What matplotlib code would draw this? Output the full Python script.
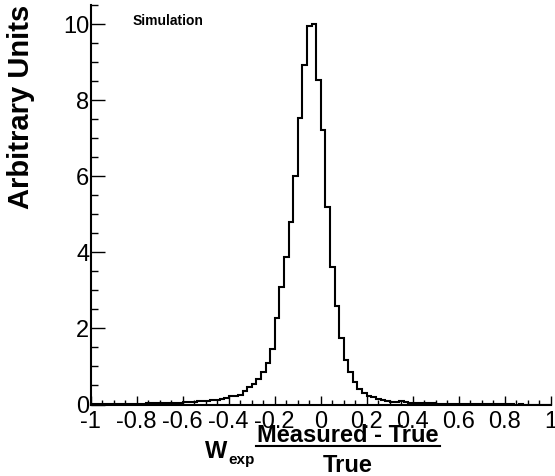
import matplotlib
matplotlib.use("Agg")
import matplotlib.pyplot as plt
from matplotlib.lines import Line2D
from matplotlib.ticker import MultipleLocator
import numpy as np

plt.rcParams['font.family'] = ['Liberation Sans', 'DejaVu Sans']

# histogram: 100 bins of width 0.02 between -1 and 1
edges = np.linspace(-1, 1, 101)
counts = [
    0.01, 0.01, 0.01, 0.01, 0.01, 0.02, 0.01, 0.02, 0.02, 0.02,
    0.02, 0.02, 0.03, 0.03, 0.03, 0.04, 0.04, 0.04, 0.05, 0.05,
    0.06, 0.07, 0.07, 0.08, 0.09, 0.10, 0.12, 0.13, 0.15, 0.16,
    0.22, 0.22, 0.25, 0.36, 0.47, 0.53, 0.66, 0.86, 1.10, 1.45,
    2.27, 3.10, 3.89, 4.79, 6.02, 7.53, 8.94, 9.95, 10.0, 8.53,
    7.23, 5.19, 3.62, 2.60, 1.76, 1.17, 0.85, 0.58, 0.41, 0.29,
    0.23, 0.19, 0.14, 0.12, 0.10, 0.07, 0.06, 0.09, 0.06, 0.05,
    0.04, 0.04, 0.03, 0.03, 0.03, 0.02, 0.02, 0.02, 0.02, 0.01,
    0.01, 0.01, 0.01, 0.01, 0.01, 0.01, 0.01, 0.01, 0.01, 0.01,
    0.01, 0.01, 0.00, 0.01, 0.00, 0.00, 0.00, 0.00, 0.00, 0.00,
]
xticks = [-1, -0.8, -0.6, -0.4, -0.2, 0, 0.2, 0.4, 0.6, 0.8, 1]
xticklabels = ['-1', '-0.8', '-0.6', '-0.4', '-0.2', '0', '0.2', '0.4', '0.6', '0.8', '1']
yticks = [0, 2, 4, 6, 8, 10]

W, H = 555, 476
fig = plt.figure(figsize=(W / 100, H / 100), dpi=100)
ax = fig.add_axes([90.7 / W, 1 - 404.5 / H, 460 / W, 399.5 / H])

ax.stairs(counts, edges, color='black', linewidth=1.5)

ax.set_xlim(-1, 1)
ax.set_ylim(0, 10.51)
ax.spines['top'].set_visible(False)
ax.spines['right'].set_visible(False)
for s in ['left', 'bottom']:
    ax.spines[s].set_linewidth(1.5)

ax.set_xticks(xticks)
ax.set_xticklabels(xticklabels)
ax.set_yticks(yticks)
ax.xaxis.set_minor_locator(MultipleLocator(0.05))
ax.yaxis.set_minor_locator(MultipleLocator(0.5))
ax.tick_params(axis='x', which='major', direction='in', length=6.5, width=1, labelsize=17, pad=5)
ax.tick_params(axis='x', which='minor', direction='in', length=3.3, width=1)
ax.tick_params(axis='y', which='major', direction='in', length=10, width=1, labelsize=17, pad=1)
ax.tick_params(axis='y', which='minor', direction='in', length=5, width=1)

fig.text(21 / W, 1 - 5 / H, 'Arbitrary Units', rotation=90, ha='center', va='top',
         fontsize=21, fontweight='bold')
fig.text(133 / W, 1 - 25 / H, 'Simulation', ha='left', va='baseline',
         fontsize=10, fontweight='bold')

# x label: W_exp (Measured - True)/True
fig.text(205 / W, 1 - 458 / H, 'W', ha='left', va='baseline', fontsize=17, fontweight='bold')
fig.text(228 / W, 1 - 464 / H, 'exp', ha='left', va='baseline', fontsize=11, fontweight='bold')
fig.text(348 / W, 1 - 442 / H, 'Measured - True', ha='center', va='baseline',
         fontsize=17, fontweight='bold')
fig.add_artist(Line2D([256 / W, 440 / W], [1 - 446 / H, 1 - 446 / H],
                      transform=fig.transFigure, color='black', linewidth=1.5))
fig.text(348 / W, 1 - 472 / H, 'True', ha='center', va='baseline',
         fontsize=17, fontweight='bold')

fig.savefig('out.png', dpi=100)
